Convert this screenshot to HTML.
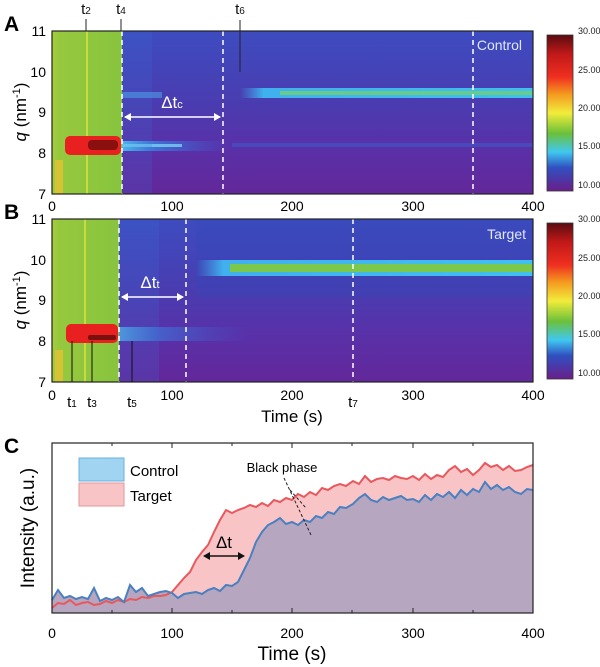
<!DOCTYPE html>
<html><head><meta charset="utf-8"><style>
body{margin:0;background:#fff}
svg{display:block;font-family:"Liberation Sans",sans-serif}
</style></head><body>
<svg width="600" height="667" viewBox="0 0 600 667" xmlns="http://www.w3.org/2000/svg">
<defs>
<linearGradient id="cb" x1="0" y1="0" x2="0" y2="1">
<stop offset="0" stop-color="#5a0c10"/><stop offset="0.12" stop-color="#c01818"/><stop offset="0.27" stop-color="#f03020"/>
<stop offset="0.38" stop-color="#f49a20"/><stop offset="0.5" stop-color="#f2ec3a"/><stop offset="0.63" stop-color="#6cc03a"/>
<stop offset="0.75" stop-color="#40c8f0"/><stop offset="0.85" stop-color="#3050c0"/><stop offset="1" stop-color="#6a1e8a"/>
</linearGradient>
<linearGradient id="bgA" x1="0" y1="0" x2="0" y2="1">
<stop offset="0" stop-color="#3d4cc0"/><stop offset="0.45" stop-color="#4a3cb0"/><stop offset="0.72" stop-color="#5a30a8"/><stop offset="1" stop-color="#62289a"/>
</linearGradient>
<linearGradient id="grn" x1="0" y1="0" x2="1" y2="0">
<stop offset="0" stop-color="#a8cc3a"/><stop offset="0.1" stop-color="#96c83e"/><stop offset="1" stop-color="#88c43e"/>
</linearGradient>
<linearGradient id="fadeR" x1="0" y1="0" x2="1" y2="0">
<stop offset="0" stop-color="#50c8f0" stop-opacity="1"/><stop offset="0.3" stop-color="#3a80e0" stop-opacity="0.8"/><stop offset="1" stop-color="#3a60d0" stop-opacity="0"/>
</linearGradient>
<linearGradient id="bandIn" x1="0" y1="0" x2="1" y2="0">
<stop offset="0" stop-color="#40a0e8" stop-opacity="0"/><stop offset="0.08" stop-color="#40b0ee" stop-opacity="1"/><stop offset="1" stop-color="#40c0f0"/>
</linearGradient>
</defs>

<!-- Panel A -->
<g>
<rect x="52" y="31" width="481" height="163" fill="url(#bgA)"/>
<rect x="52" y="31" width="70" height="163" fill="url(#grn)"/>
<rect x="86" y="31" width="2" height="163" fill="#d8e040" opacity="0.8"/>
<rect x="55" y="160" width="8" height="34" fill="#f0c030" opacity="0.7"/>
<rect x="65" y="136" width="56" height="19" rx="5" fill="#e82020"/>
<rect x="88" y="140" width="30" height="10" rx="4" fill="#8a1010"/>
<rect x="122" y="141" width="110" height="10" fill="url(#fadeR)"/>
<rect x="232" y="143" width="301" height="4" fill="#3a62d0" opacity="0.5"/>
<rect x="122" y="144" width="60" height="3" fill="#80e0f8" opacity="0.7"/>
<rect x="122" y="31" width="30" height="163" fill="#3a70d8" opacity="0.2"/>
<rect x="122" y="92" width="40" height="6" fill="#50b0f0" opacity="0.5"/>
<rect x="240" y="88" width="293" height="10" fill="url(#bandIn)"/>
<rect x="280" y="91" width="253" height="4" fill="#70d070" opacity="0.8"/>
<g stroke="#fff" stroke-width="1.5" stroke-dasharray="5,4"><line x1="122" y1="31" x2="122" y2="194"/><line x1="223" y1="31" x2="223" y2="194"/><line x1="473" y1="31" x2="473" y2="194"/></g>
<line x1="125" y1="117" x2="220" y2="117" stroke="#fff" stroke-width="1.5"/>
<path d="M124 117l7-4v8zM221 117l-7-4v8z" fill="#fff"/>
<text x="172" y="108" font-size="17" fill="#fff" text-anchor="middle">Δt<tspan font-size="11">c</tspan></text>
<text x="522" y="50" font-size="14" fill="#e0e8ff" text-anchor="end">Control</text>
<rect x="52" y="31" width="481" height="163" fill="none" stroke="#222" stroke-width="1.2"/>
<g stroke="#222"><line x1="86" y1="19" x2="86" y2="31"/><line x1="121" y1="19" x2="121" y2="31"/><line x1="240" y1="20" x2="240" y2="72"/></g>
<g font-size="15" text-anchor="middle" fill="#111"><text x="86" y="14">t<tspan font-size="10">2</tspan></text><text x="121" y="14">t<tspan font-size="10">4</tspan></text><text x="240" y="14">t<tspan font-size="10">6</tspan></text></g>
<text x="4" y="31" font-size="21" font-weight="bold">A</text>
<g font-size="14" text-anchor="end"><text x="46" y="36">11</text><text x="46" y="77">10</text><text x="46" y="117">9</text><text x="46" y="158">8</text><text x="46" y="199">7</text></g>
<g font-size="14" text-anchor="middle"><text x="52" y="211">0</text><text x="172" y="211">100</text><text x="292" y="211">200</text><text x="413" y="211">300</text><text x="533" y="211">400</text></g>
<text transform="translate(26,112) rotate(-90)" font-size="17" text-anchor="middle"><tspan font-style="italic">q</tspan> (nm<tspan font-size="11" dy="-6">-1</tspan><tspan dy="6">)</tspan></text>
<rect x="547" y="35" width="26" height="156" fill="url(#cb)" stroke="#333" stroke-width="0.8"/>
<g font-size="9" fill="#222"><text x="578" y="34">30.00</text><text x="578" y="73">25.00</text><text x="578" y="111">20.00</text><text x="578" y="149">15.00</text><text x="578" y="188">10.00</text></g>
</g>

<!-- Panel B -->
<g>
<rect x="52" y="219" width="481" height="163" fill="url(#bgA)"/>
<rect x="52" y="219" width="67" height="163" fill="url(#grn)"/>
<rect x="84" y="219" width="2" height="163" fill="#d8e040" opacity="0.8"/>
<rect x="55" y="350" width="8" height="32" fill="#f0c030" opacity="0.7"/>
<rect x="66" y="324" width="52" height="19" rx="5" fill="#e82020"/>
<rect x="88" y="335" width="28" height="5" rx="2" fill="#7a1010"/>
<rect x="119" y="327" width="130" height="14" fill="url(#fadeR)" opacity="0.75"/>
<rect x="119" y="219" width="40" height="163" fill="#3a70d8" opacity="0.2"/>
<rect x="196" y="219" width="337" height="78" fill="#3447b8" opacity="0.35"/>
<rect x="196" y="260" width="337" height="16" fill="url(#bandIn)"/>
<rect x="230" y="264" width="303" height="8" fill="#7cc84c"/>
<g stroke="#fff" stroke-width="1.5" stroke-dasharray="5,4"><line x1="119" y1="219" x2="119" y2="382"/><line x1="186" y1="219" x2="186" y2="382"/><line x1="353" y1="219" x2="353" y2="382"/></g>
<line x1="122" y1="297" x2="183" y2="297" stroke="#fff" stroke-width="1.5"/>
<path d="M121 297l7-4v8zM184 297l-7-4v8z" fill="#fff"/>
<text x="150" y="288" font-size="17" fill="#fff" text-anchor="middle">Δt<tspan font-size="11">t</tspan></text>
<text x="526" y="239" font-size="14" fill="#e0e8ff" text-anchor="end">Target</text>
<rect x="52" y="219" width="481" height="163" fill="none" stroke="#222" stroke-width="1.2"/>
<g stroke="#111"><line x1="72" y1="341" x2="72" y2="382"/><line x1="92" y1="341" x2="92" y2="382"/><line x1="132" y1="341" x2="132" y2="382"/></g>
<text x="4" y="219" font-size="21" font-weight="bold">B</text>
<g font-size="14" text-anchor="end"><text x="46" y="224">11</text><text x="46" y="265">10</text><text x="46" y="305">9</text><text x="46" y="346">8</text><text x="46" y="387">7</text></g>
<g font-size="14" text-anchor="middle"><text x="52" y="400">0</text><text x="172" y="400">100</text><text x="292" y="400">200</text><text x="413" y="400">300</text><text x="533" y="400">400</text></g>
<g font-size="15" text-anchor="middle"><text x="72" y="407">t<tspan font-size="10">1</tspan></text><text x="92" y="407">t<tspan font-size="10">3</tspan></text><text x="132" y="407">t<tspan font-size="10">5</tspan></text><text x="353" y="407">t<tspan font-size="10">7</tspan></text></g>
<text x="292" y="422" font-size="17" text-anchor="middle">Time (s)</text>
<text transform="translate(26,300) rotate(-90)" font-size="17" text-anchor="middle"><tspan font-style="italic">q</tspan> (nm<tspan font-size="11" dy="-6">-1</tspan><tspan dy="6">)</tspan></text>
<rect x="547" y="223" width="26" height="156" fill="url(#cb)" stroke="#333" stroke-width="0.8"/>
<g font-size="9" fill="#222"><text x="578" y="222">30.00</text><text x="578" y="261">25.00</text><text x="578" y="299">20.00</text><text x="578" y="337">15.00</text><text x="578" y="376">10.00</text></g>
</g>

<!-- Panel C -->
<g>
<polygon fill="#f8c4c6" points="52,613 52,608 58,603 64,604 70,600 76,605 82,603 88,602 94,605 100,604 106,601 112,603 118,600 124,602 130,599 136,600 142,597 148,598 154,596 160,596 166,595 172,592 178,585 184,578 190,572 196,560 202,552 208,545 214,532 220,520 226,510 232,513 238,510 244,508 250,505 256,507 262,503 268,506 274,500 280,502 286,498 292,500 298,494 304,497 310,492 316,495 322,488 328,490 334,486 340,484 346,486 353,481 359,484 365,476 371,482 377,479 383,478 389,480 395,476 401,478 407,479 413,476 419,480 425,474 431,479 437,475 443,477 449,470 455,466 461,472 467,469 473,475 479,470 485,463 491,467 497,465 503,470 509,466 515,471 521,470 527,467 533,465 533,613"/>
<polygon fill="#b6a6bf" points="52,613 52,600 58,590 64,598 70,596 76,599 82,597 88,599 94,588 100,601 106,598 112,600 118,597 124,602 130,585 136,592 142,588 148,596 154,594 160,592 166,591 172,593 178,598 184,594 190,593 196,592 202,594 208,590 214,588 220,591 226,585 232,586 238,582 244,570 250,558 256,542 262,532 268,525 274,522 280,518 286,524 292,522 298,525 304,520 310,522 316,516 322,518 328,512 334,514 340,507 346,508 353,504 359,498 365,494 371,500 377,502 383,497 389,500 395,498 401,496 407,500 413,499 419,502 425,495 431,500 437,494 443,497 449,492 455,498 461,490 467,495 473,489 479,492 485,482 491,489 497,485 503,490 509,487 515,492 521,494 527,489 533,490 533,613"/>
<polyline fill="none" stroke="#e8585c" stroke-width="2" points="52,608 58,603 64,604 70,600 76,605 82,603 88,602 94,605 100,604 106,601 112,603 118,600 124,602 130,599 136,600 142,597 148,598 154,596 160,596 166,595 172,592 178,585 184,578 190,572 196,560 202,552 208,545 214,532 220,520 226,510 232,513 238,510 244,508 250,505 256,507 262,503 268,506 274,500 280,502 286,498 292,500 298,494 304,497 310,492 316,495 322,488 328,490 334,486 340,484 346,486 353,481 359,484 365,476 371,482 377,479 383,478 389,480 395,476 401,478 407,479 413,476 419,480 425,474 431,479 437,475 443,477 449,470 455,466 461,472 467,469 473,475 479,470 485,463 491,467 497,465 503,470 509,466 515,471 521,470 527,467 533,465"/>
<polyline fill="none" stroke="#4a80c0" stroke-width="2" points="52,600 58,590 64,598 70,596 76,599 82,597 88,599 94,588 100,601 106,598 112,600 118,597 124,602 130,585 136,592 142,588 148,596 154,594 160,592 166,591 172,593 178,598 184,594 190,593 196,592 202,594 208,590 214,588 220,591 226,585 232,586 238,582 244,570 250,558 256,542 262,532 268,525 274,522 280,518 286,524 292,522 298,525 304,520 310,522 316,516 322,518 328,512 334,514 340,507 346,508 353,504 359,498 365,494 371,500 377,502 383,497 389,500 395,498 401,496 407,500 413,499 419,502 425,495 431,500 437,494 443,497 449,492 455,498 461,490 467,495 473,489 479,492 485,482 491,489 497,485 503,490 509,487 515,492 521,494 527,489 533,490"/>
<rect x="52" y="443" width="481" height="170" fill="none" stroke="#222" stroke-width="1.2"/>
<g stroke="#222"><path d="M52 613v-5M112 613v-3M172 613v-5M232 613v-3M292 613v-5M352 613v-3M413 613v-5M473 613v-3M533 613v-5M52 443v5M112 443v3M172 443v5M232 443v3M292 443v5M352 443v3M413 443v5M473 443v3M533 443v5"/></g>
<rect x="79" y="458" width="45" height="23" fill="#a0d4f0" stroke="#6ab0e0"/>
<rect x="79" y="483" width="45" height="23" fill="#f8c4c6" stroke="#e09898"/>
<text x="130" y="476" font-size="15">Control</text>
<text x="130" y="501" font-size="15">Target</text>
<text x="282" y="472" font-size="13" text-anchor="middle">Black phase</text>
<g stroke="#222" stroke-dasharray="3,2"><line x1="284" y1="478" x2="311" y2="535"/><line x1="290" y1="490" x2="306" y2="508"/></g>
<line x1="205" y1="556" x2="243" y2="556" stroke="#111" stroke-width="1.5"/>
<path d="M203 556l7-4v8zM245 556l-7-4v8z" fill="#111"/>
<text x="224" y="548" font-size="17" text-anchor="middle">Δt</text>
<text x="4" y="453" font-size="21" font-weight="bold">C</text>
<g font-size="14" text-anchor="middle"><text x="52" y="638">0</text><text x="172" y="638">100</text><text x="292" y="638">200</text><text x="413" y="638">300</text><text x="533" y="638">400</text></g>
<text x="292" y="660" font-size="19" text-anchor="middle">Time (s)</text>
<text transform="translate(34,528) rotate(-90)" font-size="19" text-anchor="middle">Intensity (a.u.)</text>
</g>
</svg>
</body></html>
